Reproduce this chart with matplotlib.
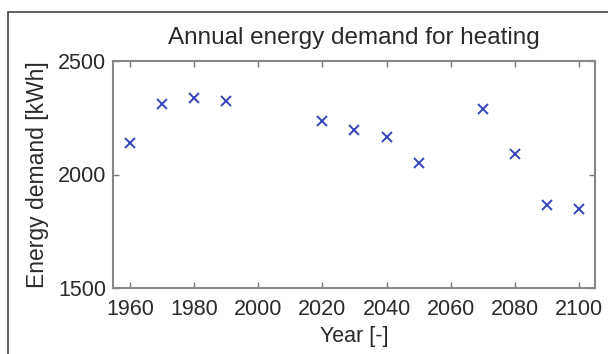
import matplotlib.pyplot as plt
from matplotlib.patches import Rectangle

# Données
years = [1960, 1970, 1980, 1990, 2020, 2030, 2040, 2050, 2070, 2080, 2090, 2100]
demand = [2138, 2311, 2336, 2325, 2237, 2196, 2167, 2049, 2290, 2090, 1867, 1847]
xticks = [1960, 1980, 2000, 2020, 2040, 2060, 2080, 2100]
yticks = [1500, 2000, 2500]

plt.rcParams['font.family'] = ['Liberation Sans', 'DejaVu Sans']

fig = plt.figure(figsize=(6.08, 3.54), dpi=100)
# cadre autour de la figure (bords gauche et haut visibles)
fig.patches.append(Rectangle((8 / 608, -0.1), 1.2, (354 - 12) / 354 + 0.1,
                             transform=fig.transFigure, fill=False,
                             edgecolor='#444444', linewidth=1.2))

ax = fig.add_axes([113 / 608, 66 / 354, 482 / 608, 227 / 354])
ax.plot(years, demand, 'x', color='#3344bb', markersize=7.5, markeredgewidth=1.4)

ax.set_xlim(1954.7, 2105)
ax.set_ylim(1500, 2500)
ax.set_xticks(xticks)
ax.set_yticks(yticks)
ax.tick_params(direction='in', length=4, width=1, color='#777777',
               labelsize=15.5, labelcolor='#2a2a2a', top=True, right=True)
ax.tick_params(axis='x', pad=8)
ax.tick_params(axis='y', pad=5)
for s in ax.spines.values():
    s.set_color('#888888')
    s.set_linewidth(1.5)

ax.set_title('Annual energy demand for heating', fontsize=17.5, color='#2a2a2a', pad=12)
ax.set_xlabel('Year [-]', fontsize=15.5, color='#2a2a2a', labelpad=4)
ax.set_ylabel('Energy demand [kWh]', fontsize=16.5, color='#2a2a2a', labelpad=6)

fig.savefig('out.png', dpi=100)
